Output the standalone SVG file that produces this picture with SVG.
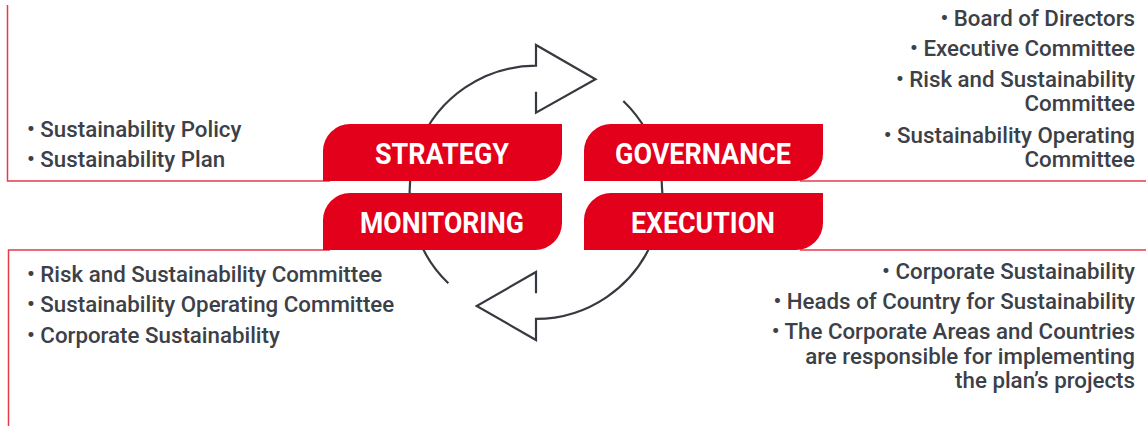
<svg xmlns="http://www.w3.org/2000/svg" width="1146" height="426" viewBox="0 0 1146 426">
  <style>
    .box { fill: #e2001a; }
    .label { font-family: Roboto, "Liberation Sans", sans-serif; font-weight: 700; font-size: 29px; fill: #ffffff; text-anchor: middle; }
    .item { font-family: Roboto, "Liberation Sans", sans-serif; font-weight: 500; font-size: 22.3px; fill: #3c4047; }
    .end { text-anchor: end; }
    .frame { fill: none; stroke: #e63a4c; stroke-width: 1.5; }
    .cycle { fill: none; stroke: #363a40; stroke-width: 2.2; stroke-linejoin: miter; }
  </style>
  <rect width="1146" height="426" fill="#ffffff"/>
  <g id="frames">
    <path class="frame" d="M 7.5 5 L 7.5 181 L 330 181"/>
    <path class="frame" d="M 800 181 L 1146 181"/>
    <path class="frame" d="M 8.5 426 L 8.5 250 L 330 250"/>
    <path class="frame" d="M 800 250 L 1146 250"/>
  </g>
  <g id="connectors">
    <path class="cycle" d="M 448.3 283.3 A 126.6 126.6 0 0 1 536 65.7 L 536 45 L 595.5 79.3 L 536 112.7 L 536 91.7"/>
    <path class="cycle" d="M 623.3 101 A 126.6 126.6 0 0 1 536 318.9 L 536 340 L 476.7 306 L 536 272 L 536 293.3"/>
  </g>
  <g id="strategy">
    <path class="box" d="M 323 181 L 323 151 A 27 27 0 0 1 350 124 L 562 124 L 562 154 A 27 27 0 0 1 535 181 Z"/>
    <text class="label" x="442" y="164" textLength="134" lengthAdjust="spacingAndGlyphs">STRATEGY</text>
    <text class="item" x="27" y="137">• Sustainability Policy</text>
    <text class="item" x="27" y="167">• Sustainability Plan</text>
  </g>
  <g id="governance">
    <path class="box" d="M 584 181 L 584 151 A 27 27 0 0 1 611 124 L 823 124 L 823 154 A 27 27 0 0 1 796 181 Z"/>
    <text class="label" x="703" y="164" textLength="176" lengthAdjust="spacingAndGlyphs">GOVERNANCE</text>
    <text class="item end" x="1135" y="26">• Board of Directors</text>
    <text class="item end" x="1135" y="56">• Executive Committee</text>
    <text class="item end" x="1135" y="87">• Risk and Sustainability</text>
    <text class="item end" x="1135" y="111">Committee</text>
    <text class="item end" x="1135" y="143">• Sustainability Operating</text>
    <text class="item end" x="1135" y="167">Committee</text>
  </g>
  <g id="monitoring">
    <path class="box" d="M 323 250 L 323 220 A 27 27 0 0 1 350 193 L 562 193 L 562 223 A 27 27 0 0 1 535 250 Z"/>
    <text class="label" x="442" y="233" textLength="164" lengthAdjust="spacingAndGlyphs">MONITORING</text>
    <text class="item" x="27" y="282">• Risk and Sustainability Committee</text>
    <text class="item" x="27" y="312">• Sustainability Operating Committee</text>
    <text class="item" x="27" y="343">• Corporate Sustainability</text>
  </g>
  <g id="execution">
    <path class="box" d="M 584 250 L 584 220 A 27 27 0 0 1 611 193 L 823 193 L 823 223 A 27 27 0 0 1 796 250 Z"/>
    <text class="label" x="703" y="233" textLength="144" lengthAdjust="spacingAndGlyphs">EXECUTION</text>
    <text class="item end" x="1135" y="279">• Corporate Sustainability</text>
    <text class="item end" x="1135" y="309">• Heads of Country for Sustainability</text>
    <text class="item end" x="1135" y="339">• The Corporate Areas and Countries</text>
    <text class="item end" x="1135" y="364">are responsible for implementing</text>
    <text class="item end" x="1135" y="388">the plan’s projects</text>
  </g>
</svg>
